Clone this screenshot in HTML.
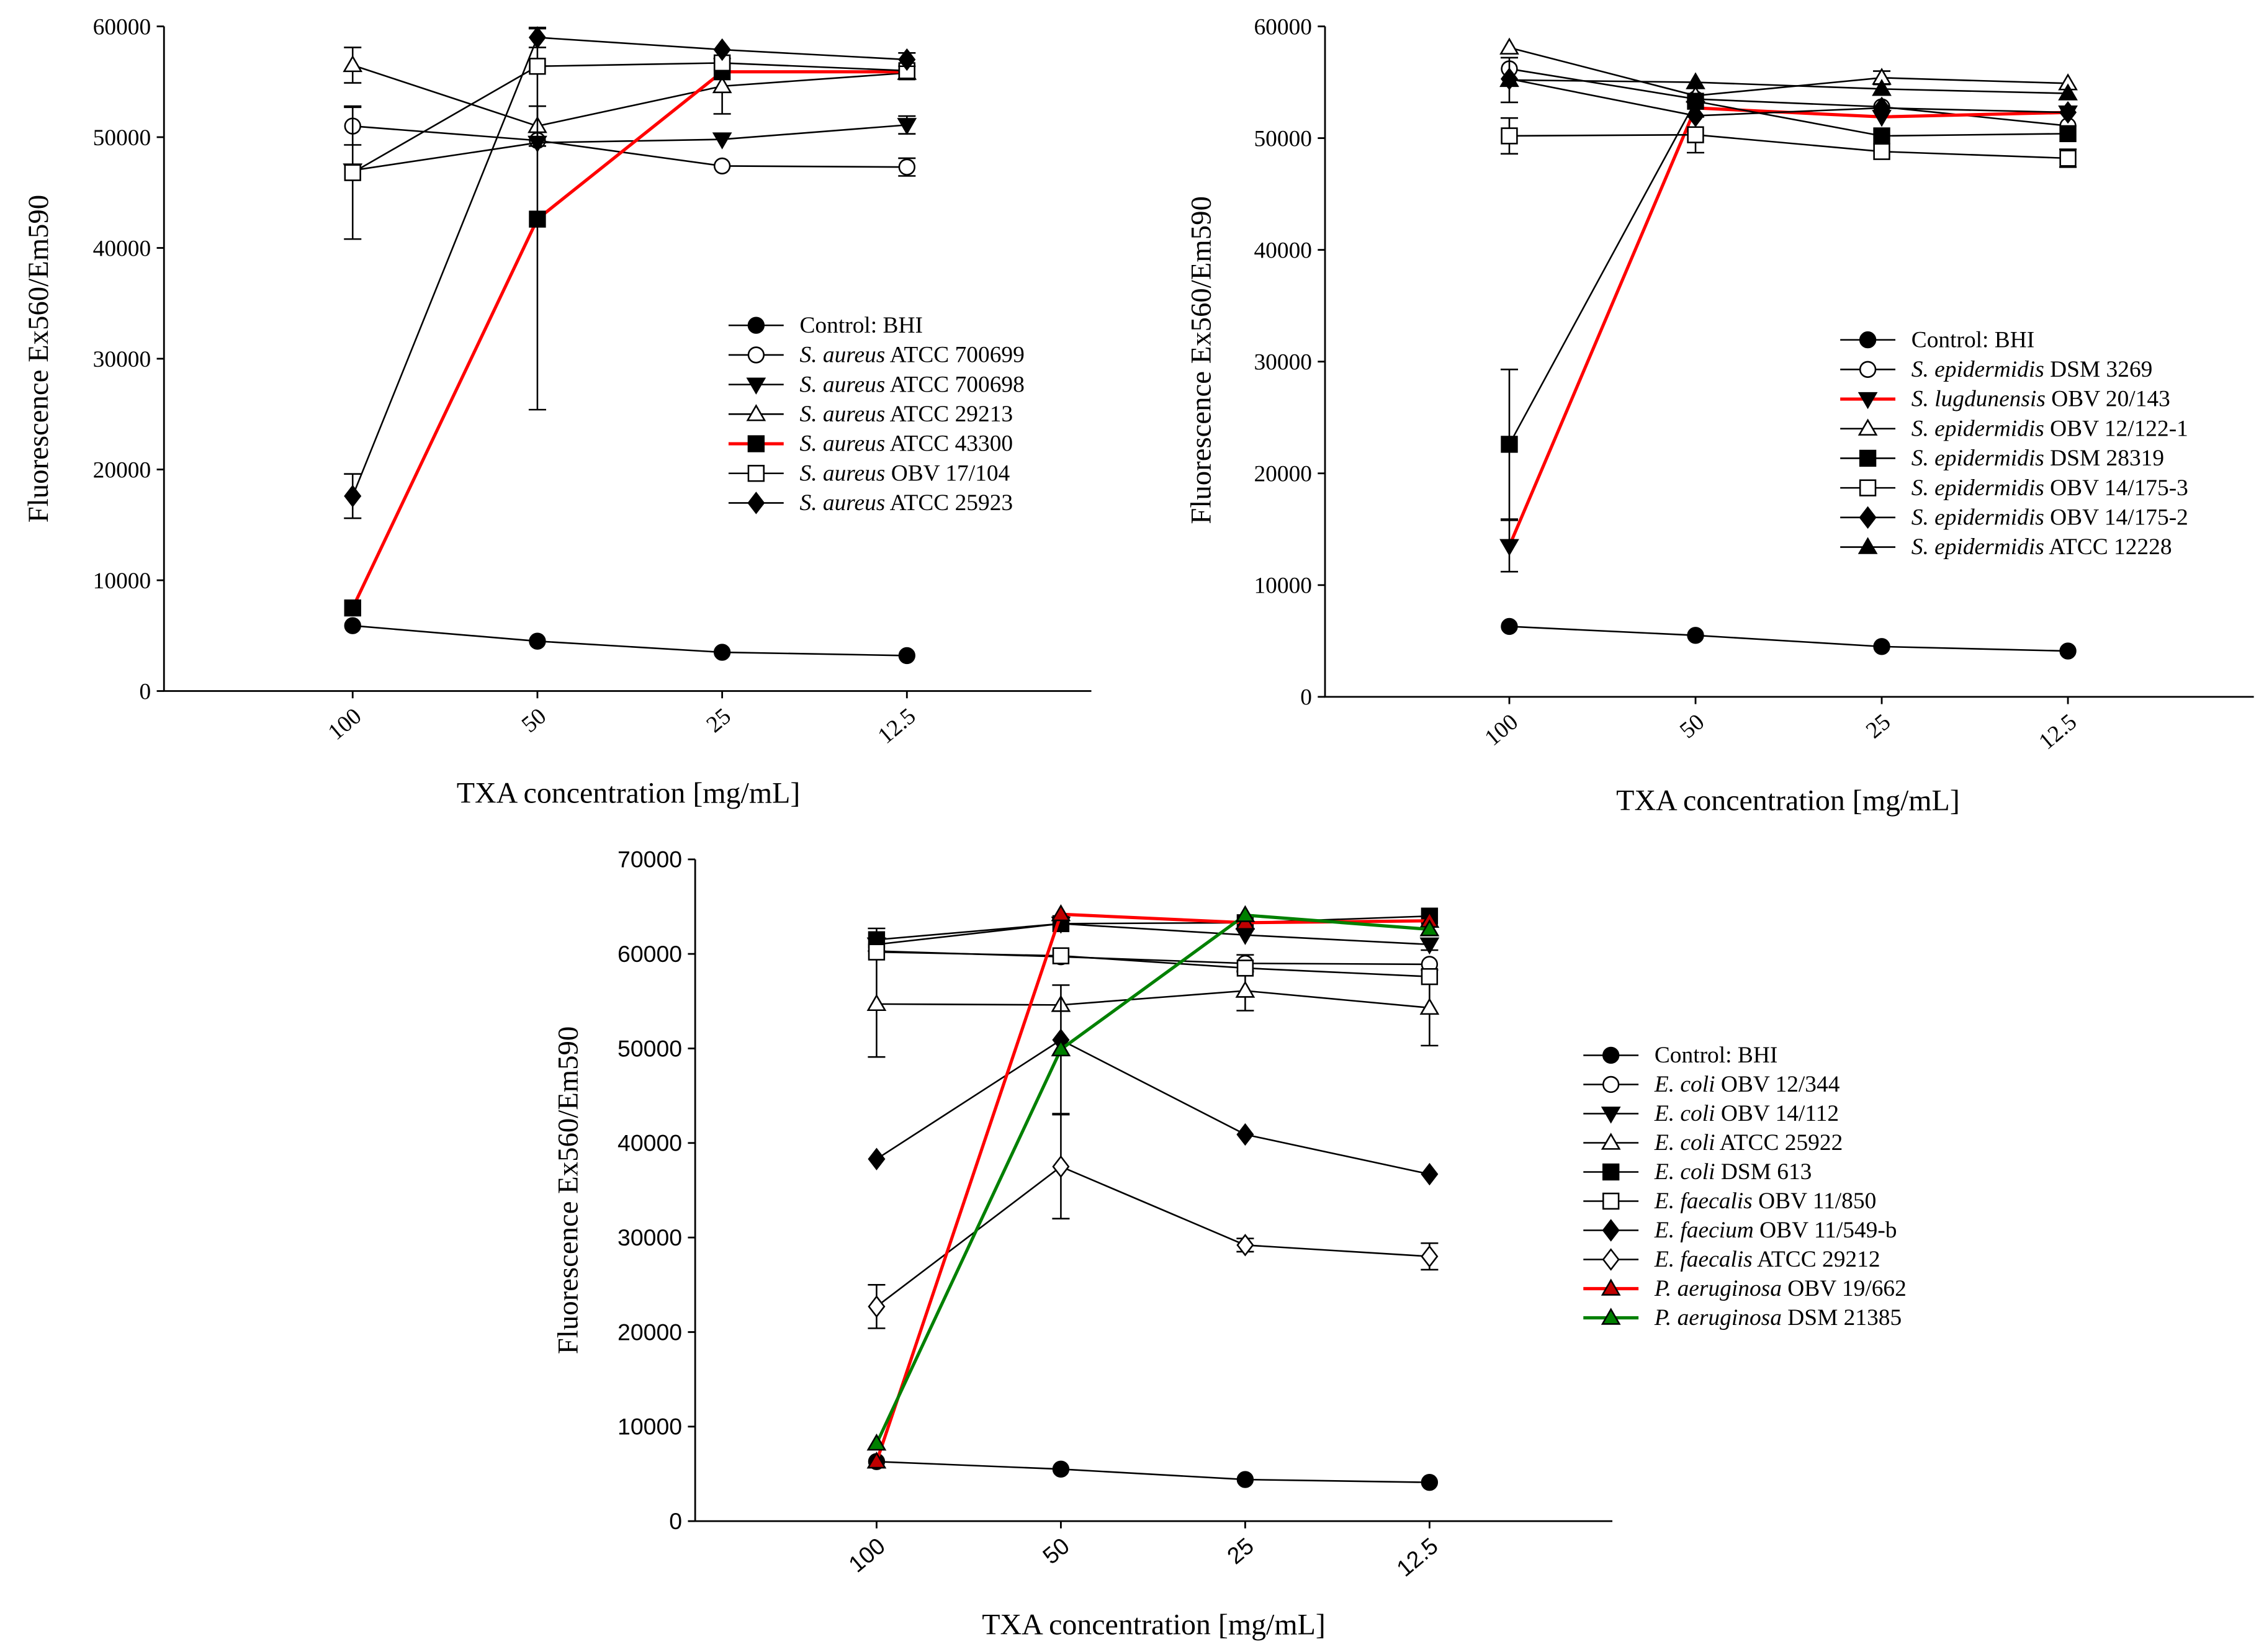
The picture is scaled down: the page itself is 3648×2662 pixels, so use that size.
<!DOCTYPE html>
<html><head><meta charset="utf-8"><style>
html,body{margin:0;padding:0;background:#fff;}
svg{display:block;font-family:"Liberation Serif",serif;}
</style></head><body>
<svg id="chart" width="3648" height="2662" viewBox="0 0 1560 1138" xmlns="http://www.w3.org/2000/svg"></svg>
<script>
const categories = ["100","50","25","12.5"];
// Panel A
const aNames = [["","Control: BHI"],["S. aureus"," ATCC 700699"],["S. aureus"," ATCC 700698"],["S. aureus"," ATCC 29213"],["S. aureus"," ATCC 43300"],["S. aureus"," OBV 17/104"],["S. aureus"," ATCC 25923"]];
const aMarkers = ["circle","ocircle","down","otri","square","osquare","diamond"];
const aColors = ["#000","#000","#000","#000","red","#000","#000"];
const aControl = [5900,4500,3500,3200];
const a700699 = [51000,49700,47400,47300];
const a700698 = [47000,49500,49800,51100];
const a29213 = [56500,51000,54600,55800];
const a43300 = [7500,42600,55900,55900];
const aOBV17 = [46800,56400,56700,56000];
const a25923 = [17600,59000,57900,57000];
const aErr = [[0,0,0,0],[1700,0,0,800],[0,0,0,800],[1600,1800,2500,0],[0,17200,0,0],[6000,0,0,0],[2000,900,0,600]];
// Panel B
const bNames = [["","Control: BHI"],["S. epidermidis"," DSM 3269"],["S. lugdunensis"," OBV 20/143"],["S. epidermidis"," OBV 12/122-1"],["S. epidermidis"," DSM 28319"],["S. epidermidis"," OBV 14/175-3"],["S. epidermidis"," OBV 14/175-2"],["S. epidermidis"," ATCC 12228"]];
const bMarkers = ["circle","ocircle","down","otri","square","osquare","diamond","tri"];
const bColors = ["#000","#000","red","#000","#000","#000","#000","#000"];
const bControl = [6300,5500,4500,4100];
const bDSM3269 = [56200,53500,52800,51100];
const bLugd = [13500,52700,51900,52300];
const bOBV12 = [58100,53800,55400,54900];
const bDSM28319 = [22600,53300,50200,50400];
const bOBV14_3 = [50200,50300,48800,48200];
const bOBV14_2 = [55300,52000,52700,52300];
const bATCC12228 = [55200,55000,54400,54000];
const bErr = [[0,0,0,0],[0,0,0,0],[2300,0,0,0],[0,0,600,0],[6700,0,0,0],[1600,1600,0,800],[0,0,0,0],[2000,0,0,0]];
// Panel C
const cNames = [["","Control: BHI"],["E. coli"," OBV 12/344"],["E. coli"," OBV 14/112"],["E. coli"," ATCC 25922"],["E. coli"," DSM 613"],["E. faecalis"," OBV 11/850"],["E. faecium"," OBV 11/549-b"],["E. faecalis"," ATCC 29212"],["P. aeruginosa"," OBV 19/662"],["P. aeruginosa"," DSM 21385"]];
const cMarkers = ["circle","ocircle","down","otri","square","osquare","diamond","odiamond","rtri","gtri"];
const cColors = ["#000","#000","#000","#000","#000","#000","#000","#000","red","green"];
const cControl = [6300,5500,4400,4100];
const cOBV12 = [60300,59700,59000,58900];
const cOBV14 = [61000,63200,62000,61000];
const cATCC25922 = [54700,54600,56100,54300];
const cDSM613 = [61500,63200,63300,64000];
const cOBV11_850 = [60200,59800,58500,57600];
const cOBV11_549 = [38300,50900,40900,36700];
const cATCC29212 = [22700,37500,29200,28000];
const cPaer1 = [6300,64200,63300,63500];
const cPaer2 = [8200,49900,64100,62600];
const cErr = [[0,0,0,0],[0,0,900,0],[0,0,0,600],[5600,0,2100,4000],[1200,0,0,0],[0,0,0,0],[0,0,0,0],[2300,5500,700,1400],[0,0,0,0],[0,6800,0,0]];

const NS="http://www.w3.org/2000/svg";
const svg=document.getElementById('chart');
function mk(tag,attrs,parent){const e=document.createElementNS(NS,tag);for(const k in attrs)e.setAttribute(k,attrs[k]);(parent||svg).appendChild(e);return e;}

function marker(g,type,x,y,col){
  const r=5.3; let e;
  const fill = type.startsWith('o')?'#fff':(type==='rtri'?'#c00000':(type==='gtri'?'#008000':'#000'));
  const st={fill:fill,stroke:'#000','stroke-width':1.1};
  const t=type.replace(/^o/,'');
  if(t==='circle'){e=mk('circle',Object.assign({cx:x,cy:y,r:r},st),g);}
  else if(t==='square'){e=mk('rect',Object.assign({x:x-r,y:y-r,width:2*r,height:2*r},st),g);}
  else if(t==='diamond'){e=mk('polygon',Object.assign({points:`${x},${y-r*1.3} ${x+r},${y} ${x},${y+r*1.3} ${x-r},${y}`},st),g);}
  else if(t==='down'){e=mk('polygon',Object.assign({points:`${x-r*1.1},${y-r*0.8} ${x+r*1.1},${y-r*0.8} ${x},${y+r*1.1}`},st),g);}
  else {e=mk('polygon',Object.assign({points:`${x-r*1.1},${y+r*0.8} ${x+r*1.1},${y+r*0.8} ${x},${y-r*1.1}`},st),g);}
  
  
}

function panel(id,o){
  const g=mk('g',{});
  const ys=v=>o.y0+(o.yTop-o.y0)*v/o.ymax;
  const xs=i=>o.x0pt+i*o.dx;
  const ax=mk('path',{d:`M${o.ax},${o.yTop} L${o.ax},${o.y0} L${o.axEnd},${o.y0}`,fill:'none',stroke:'#000','stroke-width':1.2},g);
  
  for(let v=0;v<=o.ymax;v+=10000){
    mk('line',{x1:o.ax-5,x2:o.ax,y1:ys(v),y2:ys(v),stroke:'#000','stroke-width':1.2},g);
    const t=mk('text',{x:o.ax-9,y:ys(v)+5.5,'text-anchor':'end','font-size':16,'font-family':o.tickFont},g);t.textContent=v;
    
  }
  categories.forEach((c,i)=>{
    mk('line',{x1:xs(i),x2:xs(i),y1:o.y0,y2:o.y0+5,stroke:'#000','stroke-width':1.2},g);
    const t=mk('text',{x:xs(i)+7,y:o.y0+19,'text-anchor':'end','font-size':16,'font-family':o.tickFont,transform:`rotate(-40 ${xs(i)+7} ${o.y0+19})`},g);t.textContent=c;
    
  });
  const xt=mk('text',{x:o.xtx,y:o.xty,'text-anchor':'middle','font-size':20.5},g);xt.textContent='TXA concentration [mg/mL]';
  
  const yt=mk('text',{x:o.ytx,y:o.yty,'text-anchor':'middle','font-size':20,transform:`rotate(-90 ${o.ytx} ${o.yty})`},g);yt.textContent='Fluorescence Ex560/Em590';
  
  o.series.forEach((s,si)=>{
    const sg=mk('g',{},g);
    
    const col=o.colors[si];
    s.forEach((v,i)=>{const e=o.err[si][i];if(e>0){
      mk('line',{x1:xs(i),x2:xs(i),y1:ys(v-e),y2:ys(v+e),stroke:'#000','stroke-width':1.1},sg);
      mk('line',{x1:xs(i)-6,x2:xs(i)+6,y1:ys(v-e),y2:ys(v-e),stroke:'#000','stroke-width':1.1},sg);
      mk('line',{x1:xs(i)-6,x2:xs(i)+6,y1:ys(v+e),y2:ys(v+e),stroke:'#000','stroke-width':1.1},sg);}});
    mk('polyline',{points:s.map((v,i)=>xs(i)+','+ys(v)).join(' '),fill:'none',stroke:col,'stroke-width':col==='#000'?1.1:2.2},sg);
    s.forEach((v,i)=>marker(sg,o.markers[si],xs(i),ys(v),col));
  });
  const lg=mk('g',{},g);
  o.names.forEach((n,i)=>{
    const y=o.ly+i*o.lsp;const col=o.colors[i];
    const eg=mk('g',{},lg);
    mk('line',{x1:o.lx,x2:o.lx+38,y1:y,y2:y,stroke:col,'stroke-width':col==='#000'?1.1:2.2},eg);
    marker(eg,o.markers[i],o.lx+19,y,col);
    const t=mk('text',{x:o.lx+49,y:y+5,'font-size':16},eg);
    const a=mk('tspan',{'font-style':'italic'},t);a.textContent=n[0];
    const b=mk('tspan',{},t);b.textContent=n[1];
  });
}

panel('panel-staph-aureus',{ax:113,yTop:18,y0:476,axEnd:752,ymax:60000,x0pt:243,dx:127.3,xtx:433,xty:553,ytx:33,yty:247,tickFont:'Liberation Serif',
  series:[aControl,a700699,a700698,a29213,a43300,aOBV17,a25923],err:aErr,markers:aMarkers,colors:aColors,names:aNames,lx:502,ly:224,lsp:20.4});
panel('panel-staph-other',{ax:913,yTop:18,y0:480,axEnd:1553,ymax:60000,x0pt:1040,dx:128.3,xtx:1232,xty:558,ytx:834,yty:248,tickFont:'Liberation Serif',
  series:[bControl,bDSM3269,bLugd,bOBV12,bDSM28319,bOBV14_3,bOBV14_2,bATCC12228],err:bErr,markers:bMarkers,colors:bColors,names:bNames,lx:1268,ly:234,lsp:20.4});
panel('panel-gram-negative',{ax:479,yTop:592,y0:1048,axEnd:1111,ymax:70000,x0pt:604,dx:127,xtx:795,xty:1126,ytx:398,yty:820,tickFont:'Liberation Sans',
  series:[cControl,cOBV12,cOBV14,cATCC25922,cDSM613,cOBV11_850,cOBV11_549,cATCC29212,cPaer1,cPaer2],err:cErr,markers:cMarkers,colors:cColors,names:cNames,lx:1091,ly:727,lsp:20.1});
</script>
</body></html>
